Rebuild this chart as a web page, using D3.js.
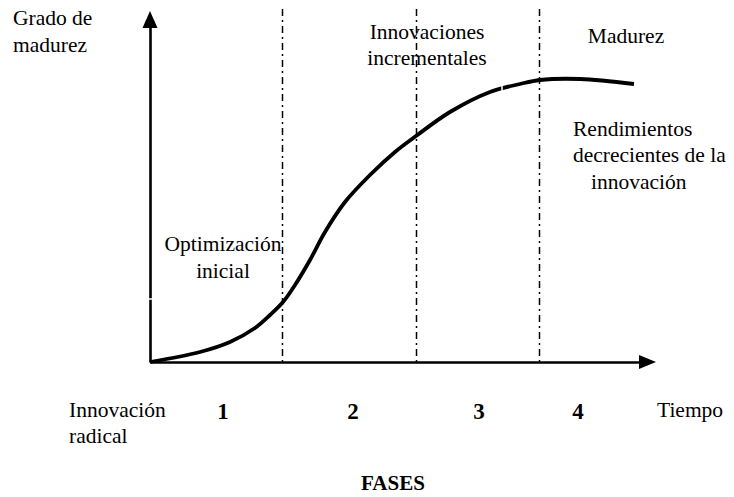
<!DOCTYPE html>
<html>
<head>
<meta charset="utf-8">
<script src="https://cdn.jsdelivr.net/npm/d3@7"></script>
<style>
  html, body { margin: 0; padding: 0; background: #fff; }
  svg { display: block; }
</style>
</head>
<body>
<script>
// ---- data ----
// S-curve: time (x) vs grado de madurez (y), arbitrary units
const curveTime     = [0, 50, 80, 105, 120, 133, 145, 160, 175, 195, 220, 245, 266, 300, 340, 370, 390, 430, 484];
const curveMaturity = [0, 10, 20, 34, 47, 60, 77, 102, 130, 160, 187, 210, 226, 250, 270, 278, 282, 283, 278];
// phase boundaries (dash-dot lines)
const phaseBoundaries = [132, 266, 389];
// phase numbers and their centres
const phaseLabels = ["1", "2", "3", "4"];
const phaseCentres = [73, 203, 329, 428];

const W = 734, H = 497;
const FONT = '"Liberation Serif", "Times New Roman", serif';
const svg = d3.select("body").append("svg").attr("width", W).attr("height", H);

const x = d3.scaleLinear().domain([0, 490]).range([150, 640]);
const y = d3.scaleLinear().domain([0, 335]).range([362, 27]);

// axes (no ticks)
const xAxis = d3.axisBottom(x).tickValues([]).tickSizeOuter(0);
const yAxis = d3.axisLeft(y).tickValues([]).tickSizeOuter(0);
svg.append("g").attr("transform", `translate(0,${y(0)})`).call(xAxis)
  .select(".domain").attr("stroke", "#000").attr("stroke-width", 2.6);
svg.append("g").attr("transform", `translate(${x(0)},0)`).call(yAxis)
  .select(".domain").attr("stroke", "#000").attr("stroke-width", 2.6);

// arrowheads
const yTop = y.range()[1], xEnd = x.range()[1];
svg.append("path")
  .attr("d", `M${x(0)},${yTop - 16} L${x(0) - 7.5},${yTop + 1} L${x(0) + 7.5},${yTop + 1} Z`)
  .attr("fill", "#000");
svg.append("path")
  .attr("d", `M${xEnd + 16},${y(0)} L${xEnd - 1},${y(0) - 7} L${xEnd - 1},${y(0) + 7} Z`)
  .attr("fill", "#000");

// dash-dot phase lines
svg.selectAll("line.phase").data(phaseBoundaries).enter().append("line")
  .attr("class", "phase")
  .attr("x1", d => x(d) + 0.5).attr("x2", d => x(d) + 0.5)
  .attr("y1", yTop - 18).attr("y2", y(0))
  .attr("stroke", "#000").attr("stroke-width", 1.5)
  .attr("stroke-dasharray", "7,4,2,4");

// curve
const pts = curveTime.map((t, i) => [t, curveMaturity[i]]);
const line = d3.line().x(d => x(d[0])).y(d => y(d[1])).curve(d3.curveCatmullRom.alpha(0.5));
svg.append("path").datum(pts)
  .attr("d", line)
  .attr("fill", "none").attr("stroke", "#000").attr("stroke-width", 3.8)
  .attr("stroke-linecap", "butt");

// thin white breaks left by the text boxes of the original drawing
svg.append("line").attr("x1", x(0) - 3).attr("x2", x(0) + 3).attr("y1", y(63)).attr("y2", y(63))
  .attr("stroke", "#fff").attr("stroke-width", 1.5);
svg.append("line").attr("x1", x(143)).attr("x2", x(150)).attr("y1", y(63)).attr("y2", y(63))
  .attr("stroke", "#fff").attr("stroke-width", 1.5);
svg.append("line").attr("x1", x(352)).attr("x2", x(352)).attr("y1", y(262)).attr("y2", y(282))
  .attr("stroke", "#fff").attr("stroke-width", 1.5);

// texts
function txt(str, xx, yy, anchor, opts = {}) {
  return svg.append("text").attr("x", xx).attr("y", yy)
    .attr("text-anchor", anchor || "start")
    .style("font-family", FONT)
    .style("font-size", (opts.size || 21.5) + "px")
    .style("font-weight", opts.weight || "normal")
    .attr("fill", "#000")
    .text(str);
}
txt("Grado de", 13, 25);
txt("madurez", 13, 52);
txt("Innovaciones", 427, 39, "middle");
txt("incrementales", 427, 65, "middle");
txt("Madurez", 626, 43, "middle");
txt("Rendimientos", 573, 136);
txt("decrecientes de la", 573, 162);
txt("innovación", 591, 189);
txt("Optimización", 223, 251, "middle");
txt("inicial", 223, 278, "middle");
txt("Innovación", 69, 417);
txt("radical", 69, 443);
txt("Tiempo", 657, 417);

svg.selectAll("text.phase").data(phaseLabels).enter().append("text")
  .attr("class", "phase")
  .attr("x", (d, i) => x(phaseCentres[i]))
  .attr("y", 419)
  .attr("text-anchor", "middle")
  .style("font-family", FONT)
  .style("font-size", "23px")
  .style("font-weight", "bold")
  .attr("fill", "#000")
  .text(d => d);

txt("FASES", 393, 490, "middle", { size: 21, weight: "bold" });
</script>
</body>
</html>
